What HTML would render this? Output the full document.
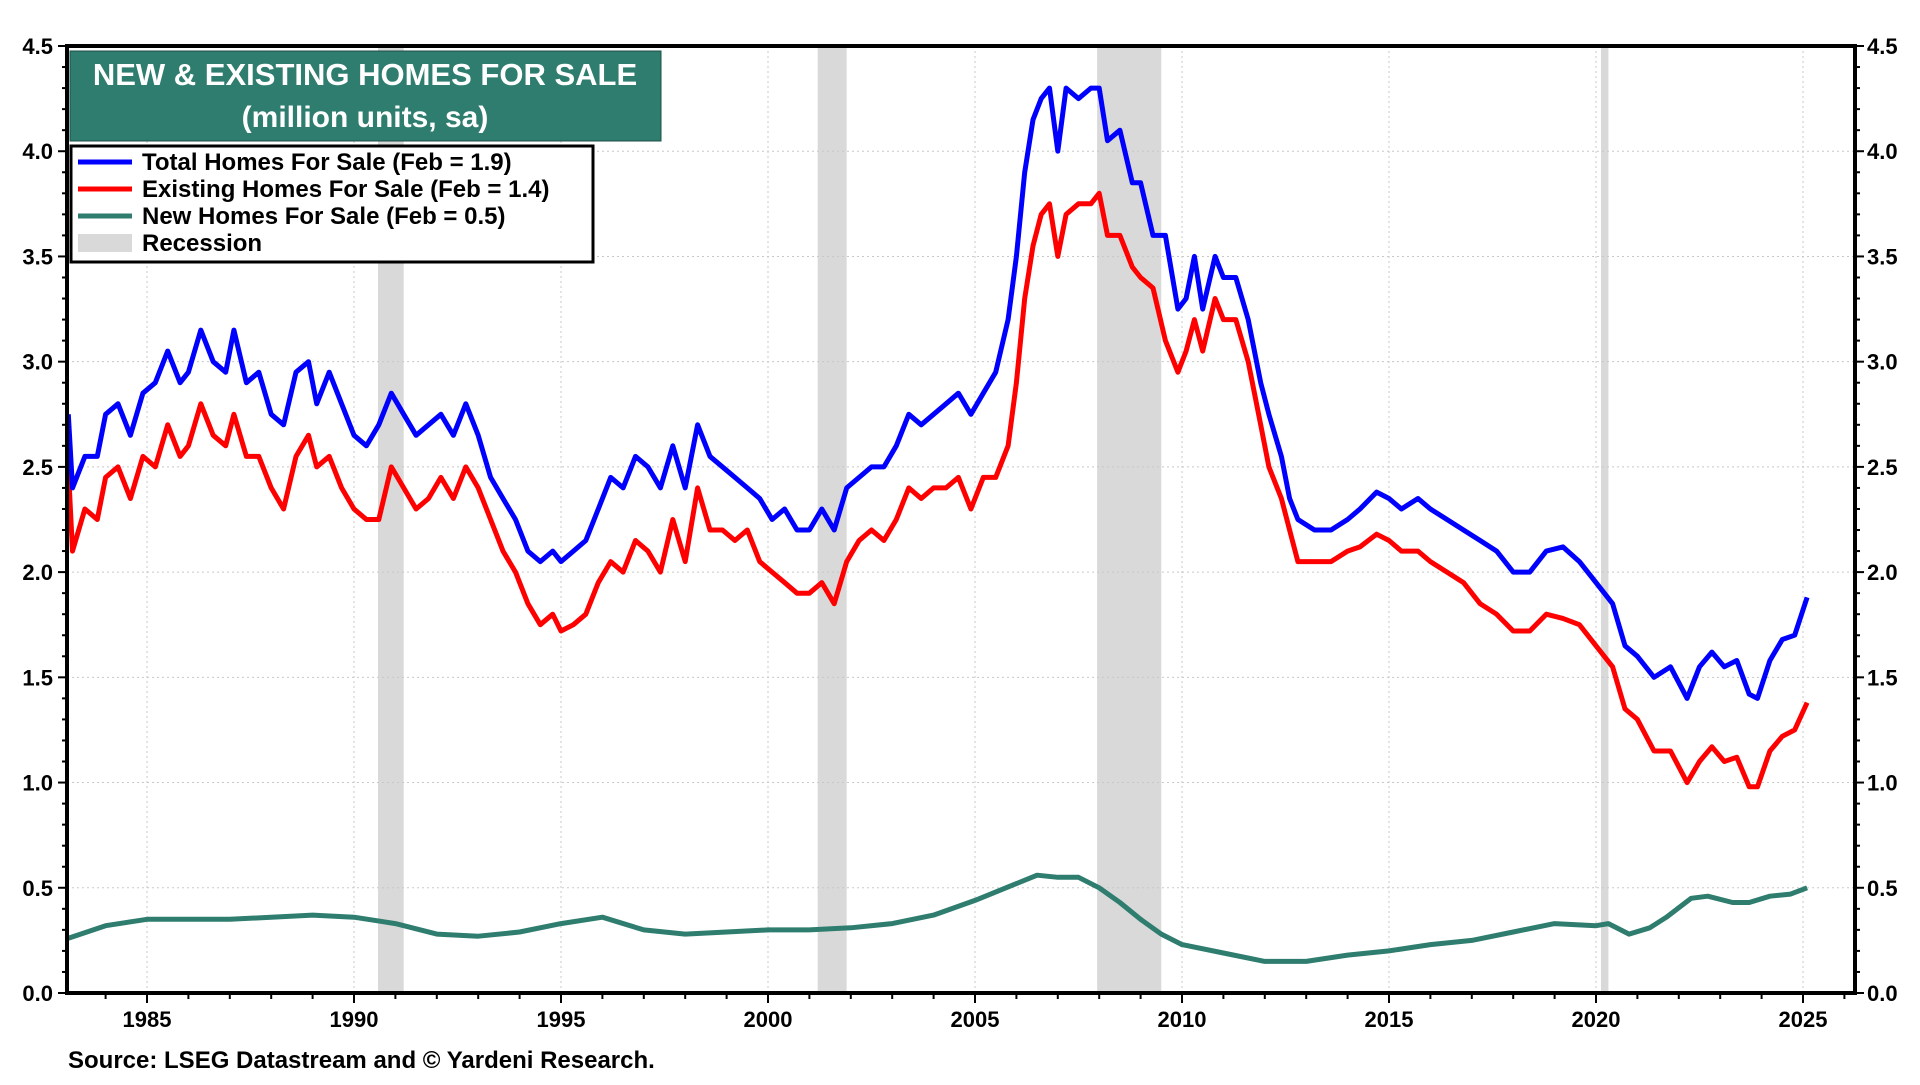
<!DOCTYPE html>
<html><head><meta charset="utf-8"><style>
body{margin:0;background:#fff;width:1920px;height:1080px;overflow:hidden;font-family:"Liberation Sans",Arial,sans-serif}
svg text{font-family:"Liberation Sans",Arial,sans-serif;font-weight:bold}
</style></head><body>
<svg id="c" width="1920" height="1080" xmlns="http://www.w3.org/2000/svg"></svg>
<script>
const recStart=[1990.58,2001.2,2007.95,2020.12];
const recEnd=[1991.2,2001.9,2009.5,2020.3];
const totalDates=[1983.1,1983.2,1983.5,1983.8,1984.0,1984.3,1984.6,1984.9,1985.2,1985.5,1985.8,1986.0,1986.3,1986.6,1986.9,1987.1,1987.4,1987.7,1988.0,1988.3,1988.6,1988.9,1989.1,1989.4,1989.7,1990.0,1990.3,1990.6,1990.9,1991.2,1991.5,1991.8,1992.1,1992.4,1992.7,1993.0,1993.3,1993.6,1993.9,1994.2,1994.5,1994.8,1995.0,1995.3,1995.6,1995.9,1996.2,1996.5,1996.8,1997.1,1997.4,1997.7,1998.0,1998.3,1998.6,1998.9,1999.2,1999.5,1999.8,2000.1,2000.4,2000.7,2001.0,2001.3,2001.6,2001.9,2002.2,2002.5,2002.8,2003.1,2003.4,2003.7,2004.0,2004.3,2004.6,2004.9,2005.2,2005.5,2005.8,2006.0,2006.2,2006.4,2006.6,2006.8,2007.0,2007.2,2007.5,2007.8,2008.0,2008.2,2008.5,2008.8,2009.0,2009.3,2009.6,2009.9,2010.1,2010.3,2010.5,2010.8,2011.0,2011.3,2011.6,2011.9,2012.1,2012.4,2012.6,2012.8,2013.2,2013.6,2014.0,2014.3,2014.7,2015.0,2015.3,2015.7,2016.0,2016.4,2016.8,2017.2,2017.6,2018.0,2018.4,2018.8,2019.2,2019.6,2020.0,2020.4,2020.7,2021.0,2021.4,2021.8,2022.2,2022.5,2022.8,2023.1,2023.4,2023.7,2023.9,2024.2,2024.5,2024.8,2025.1];
const totalVals=[2.75,2.4,2.55,2.55,2.75,2.8,2.65,2.85,2.9,3.05,2.9,2.95,3.15,3.0,2.95,3.15,2.9,2.95,2.75,2.7,2.95,3.0,2.8,2.95,2.8,2.65,2.6,2.7,2.85,2.75,2.65,2.7,2.75,2.65,2.8,2.65,2.45,2.35,2.25,2.1,2.05,2.1,2.05,2.1,2.15,2.3,2.45,2.4,2.55,2.5,2.4,2.6,2.4,2.7,2.55,2.5,2.45,2.4,2.35,2.25,2.3,2.2,2.2,2.3,2.2,2.4,2.45,2.5,2.5,2.6,2.75,2.7,2.75,2.8,2.85,2.75,2.85,2.95,3.2,3.5,3.9,4.15,4.25,4.3,4.0,4.3,4.25,4.3,4.3,4.05,4.1,3.85,3.85,3.6,3.6,3.25,3.3,3.5,3.25,3.5,3.4,3.4,3.2,2.9,2.75,2.55,2.35,2.25,2.2,2.2,2.25,2.3,2.38,2.35,2.3,2.35,2.3,2.25,2.2,2.15,2.1,2.0,2.0,2.1,2.12,2.05,1.95,1.85,1.65,1.6,1.5,1.55,1.4,1.55,1.62,1.55,1.58,1.42,1.4,1.58,1.68,1.7,1.88];
const existingDates=totalDates.slice();
const existingVals=[2.5,2.1,2.3,2.25,2.45,2.5,2.35,2.55,2.5,2.7,2.55,2.6,2.8,2.65,2.6,2.75,2.55,2.55,2.4,2.3,2.55,2.65,2.5,2.55,2.4,2.3,2.25,2.25,2.5,2.4,2.3,2.35,2.45,2.35,2.5,2.4,2.25,2.1,2.0,1.85,1.75,1.8,1.72,1.75,1.8,1.95,2.05,2.0,2.15,2.1,2.0,2.25,2.05,2.4,2.2,2.2,2.15,2.2,2.05,2.0,1.95,1.9,1.9,1.95,1.85,2.05,2.15,2.2,2.15,2.25,2.4,2.35,2.4,2.4,2.45,2.3,2.45,2.45,2.6,2.9,3.3,3.55,3.7,3.75,3.5,3.7,3.75,3.75,3.8,3.6,3.6,3.45,3.4,3.35,3.1,2.95,3.05,3.2,3.05,3.3,3.2,3.2,3.0,2.7,2.5,2.35,2.2,2.05,2.05,2.05,2.1,2.12,2.18,2.15,2.1,2.1,2.05,2.0,1.95,1.85,1.8,1.72,1.72,1.8,1.78,1.75,1.65,1.55,1.35,1.3,1.15,1.15,1.0,1.1,1.17,1.1,1.12,0.98,0.98,1.15,1.22,1.25,1.38];
const newDates=[1983.1,1984,1985,1986,1987,1988,1989,1990,1991,1992,1993,1994,1995,1996,1997,1998,1999,2000,2001,2002,2003,2004,2005,2006,2006.5,2007,2007.5,2008,2008.5,2009,2009.5,2010,2011,2012,2013,2014,2015,2016,2017,2018,2019,2020,2020.3,2020.8,2021.3,2021.7,2022.3,2022.7,2023.3,2023.7,2024.2,2024.7,2025.1];
const newVals=[0.26,0.32,0.35,0.35,0.35,0.36,0.37,0.36,0.33,0.28,0.27,0.29,0.33,0.36,0.3,0.28,0.29,0.3,0.3,0.31,0.33,0.37,0.44,0.52,0.56,0.55,0.55,0.5,0.43,0.35,0.28,0.23,0.19,0.15,0.15,0.18,0.2,0.23,0.25,0.29,0.33,0.32,0.33,0.28,0.31,0.36,0.45,0.46,0.43,0.43,0.46,0.47,0.5];
const yTicks=[0,0.5,1,1.5,2,2.5,3,3.5,4,4.5];
const xTicks=[1985,1990,1995,2000,2005,2010,2015,2020,2025];

const L=67,R=1855,T=46,B=993;
const X=y=>147+(y-1985)*41.4;
const Y=v=>B-(v/4.5)*(B-T);
const svg=document.getElementById('c');
const NS='http://www.w3.org/2000/svg';
function mk(tag,attrs,parent){const e=document.createElementNS(NS,tag);for(const k in attrs)e.setAttribute(k,attrs[k]);(parent||svg).appendChild(e);return e;}

for(let i=0;i<recStart.length;i++){
  const r=mk('rect',{x:X(recStart[i]),y:T,width:X(recEnd[i])-X(recStart[i]),height:B-T,fill:'#d9d9d9'});
  
  
}
yTicks.forEach(v=>{if(v>0&&v<4.5){const g=mk('line',{x1:L,x2:R,y1:Y(v),y2:Y(v),stroke:'#c8c8c8','stroke-width':1,'stroke-dasharray':'2,3'});

}});
xTicks.forEach(v=>{const g=mk('line',{x1:X(v),x2:X(v),y1:T,y2:B,stroke:'#c8c8c8','stroke-width':1,'stroke-dasharray':'2,3'});

});

function series(d,v,color,name){
  const p=d.map((t,i)=>(i?'L':'M')+X(t).toFixed(1)+','+Y(v[i]).toFixed(1)).join(' ');
  const e=mk('path',{d:p,fill:'none',stroke:color,'stroke-width':5,'stroke-linejoin':'round'});
  
  
}
series(newDates,newVals,'#2e7d6e','new-homes-line');
series(existingDates,existingVals,'#ff0000','existing-homes-line');
series(totalDates,totalVals,'#0000ff','total-homes-line');

mk('rect',{x:L,y:T,width:R-L,height:B-T,fill:'none',stroke:'#000','stroke-width':4});
for(let k=0;k<=45;k++){const v=k/10,len=(k%5==0)?9:5;
  mk('line',{x1:L-len,x2:L,y1:Y(v),y2:Y(v),stroke:'#000','stroke-width':2});
  mk('line',{x1:R,x2:R+len,y1:Y(v),y2:Y(v),stroke:'#000','stroke-width':2});}
yTicks.forEach(v=>{
  const a=mk('text',{x:L-14,y:Y(v)+8,'text-anchor':'end','font-size':22});a.textContent=v.toFixed(1);
  
  
  const b=mk('text',{x:R+12,y:Y(v)+8,'text-anchor':'start','font-size':22});b.textContent=v.toFixed(1);
  
  
});
for(let yr=1984;yr<=2026;yr++){const len=(yr%5==0)?10:6;mk('line',{x1:X(yr),x2:X(yr),y1:B,y2:B+len,stroke:'#000','stroke-width':2});}
xTicks.forEach(v=>{const t=mk('text',{x:X(v),y:B+34,'text-anchor':'middle','font-size':22});t.textContent=v;

});

const tb=mk('rect',{x:70,y:51,width:591,height:90,fill:'#2e7d6e',stroke:'#1e4f46','stroke-width':1});


let t=mk('text',{x:365,y:85,'text-anchor':'middle','font-size':31,fill:'#fff'});t.textContent='NEW & EXISTING HOMES FOR SALE';


t=mk('text',{x:365,y:127,'text-anchor':'middle','font-size':30,fill:'#fff'});t.textContent='(million units, sa)';



const lg=mk('rect',{x:71,y:146,width:522,height:116,fill:'#fff',stroke:'#000','stroke-width':3});


const items=[['#0000ff','Total Homes For Sale (Feb = 1.9)'],['#ff0000','Existing Homes For Sale (Feb = 1.4)'],['#2e7d6e','New Homes For Sale (Feb = 0.5)'],['#d9d9d9','Recession']];
items.forEach((it,i)=>{const cy=162+i*27;
  if(i<3)mk('line',{x1:78,x2:132,y1:cy,y2:cy,stroke:it[0],'stroke-width':5});
  else mk('rect',{x:78,y:cy-9,width:54,height:18,fill:it[0]});
  const tx=mk('text',{x:142,y:cy+8,'font-size':24});tx.textContent=it[1];
  
  
});
t=mk('text',{x:68,y:1068,'font-size':24});t.textContent='Source: LSEG Datastream and © Yardeni Research.';


</script>
</body></html>
